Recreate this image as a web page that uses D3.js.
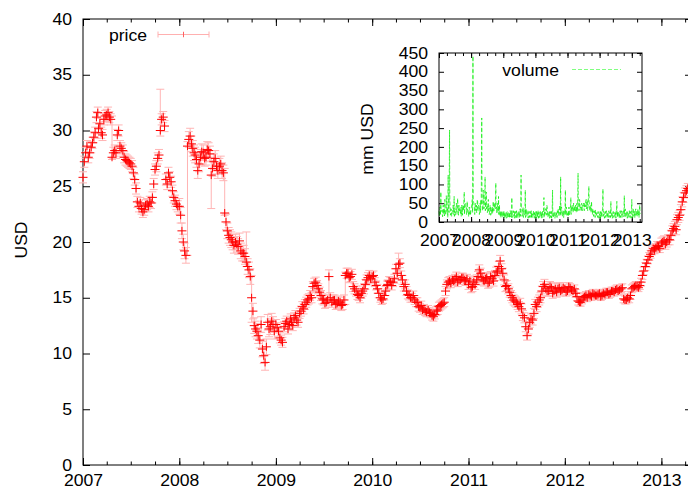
<!DOCTYPE html>
<html><head><meta charset="utf-8">
<script src="https://cdn.jsdelivr.net/npm/d3@7"></script>
<style>
html,body{margin:0;padding:0;background:#fff;}
svg{display:block;}
text{font-family:"Liberation Sans",Arial,sans-serif;font-size:16px;fill:#000;}
</style></head><body>
<svg id="chart" width="688" height="491"></svg>
<script>
// ---- price: readings per month on days 1, 11, 21 and on days 6, 16, 26 ----
const priceDays = [1, 11, 21];
const price2007 = [25.8,28.0,27.6, 28.5,29.4,31.2, 30.2,29.8,31.0, 31.4,31.2,27.6, 28.2,29.6,28.6, 28.2,27.4,27.2, 27.0,26.2,24.8, 23.2,23.0,22.9, 23.4,23.6,24.0, 26.5,27.5,30.0, 31.2,25.6,26.2, 25.4,24.0,23.4];
const price2008 = [23.2,21.0,19.2, 28.6,29.5,28.4, 27.8,26.4,27.6, 28.0,27.6,28.2, 26.0,27.2,26.8, 26.8,26.4,22.6, 21.0,20.4,20.0, 20.0,19.6,19.2, 19.0,18.2,17.5, 15.0,12.5,12.0, 11.2,10.4,9.2, 12.8,12.4,12.6];
const price2009 = [12.6,12.0,11.2, 12.4,12.9,12.6, 12.8,13.2,13.0, 13.6,14.2,14.4, 14.8,15.2,16.0, 16.4,15.8,15.2, 14.8,14.6,16.9, 14.6,14.8,14.5, 14.6,14.4,17.0, 17.2,16.9,16.0, 15.6,15.2,15.4, 15.8,16.6,17.0];
const price2010 = [16.9,16.4,15.8, 15.0,14.9,15.6, 16.2,16.4,16.4, 17.6,18.0,17.0, 16.0,15.6,15.2, 15.0,14.8,14.6, 14.1,13.9,13.8, 13.9,13.6,13.3, 13.8,14.2,14.4, 14.6,16.2,16.5, 16.6,16.7,16.4, 16.6,16.8,16.5];
const price2011 = [16.2,15.9,16.4, 16.6,17.5,16.8, 16.5,16.8,16.4, 16.7,17.0,17.4, 18.3,17.2,16.0, 15.8,15.2,14.8, 14.6,14.2,14.0, 13.2,11.6,12.8, 13.0,14.4,14.6, 15.0,16.0,15.8, 15.6,15.9,15.6, 15.5,15.9,15.7];
const price2012 = [15.8,15.6,15.9, 15.6,15.4,14.7, 14.6,15.0,15.2, 15.3,15.1,15.3, 15.2,15.4,15.2, 15.3,15.5,15.4, 15.6,15.7,15.6, 15.8,14.9,14.8, 14.9,15.8,16.0, 16.0,16.1,17.0, 17.8,18.4,18.9, 19.4,19.5,19.6];
const price2013 = [19.9,20.1,20.0, 20.2,21.0,21.4, 22.0,22.4,23.6, 24.4,24.8];

const priceMidDays = [6, 16, 26];
const priceMid2007 = [27.2,28.6,28.0, 28.9,29.8,31.6, 30.6,29.6,31.3, 31.6,31.0,28.0, 28.0,30.0,28.4, 27.6,27.3,27.1, 26.8,25.6,23.6, 23.5,22.7,23.3, 23.2,23.5,25.2, 26.8,27.8,31.0, 30.4,25.2,25.8, 24.6,23.7,23.2];
const priceMid2008 = [22.4,20.0,18.8, 29.2,28.8,28.0, 27.4,27.0,28.1, 27.5,28.3,27.9, 26.6,27.5,26.4, 27.0,26.2,21.8, 20.6,20.2,19.7, 19.8,20.1,19.0, 18.7,17.8,16.9, 13.8,12.2,11.6, 12.6,9.8,10.6, 12.2,12.9,12.0];
const priceMid2009 = [12.3,11.4,11.0, 12.7,12.2,13.1, 12.5,13.4,12.8, 13.8,14.0,14.6, 14.9,15.0,16.3, 16.1,15.5,14.9, 14.5,14.8,15.0, 14.8,14.4,14.7, 14.3,14.8,17.2, 16.8,17.1,15.8, 15.3,15.0,15.6, 16.2,16.8,16.7];
const priceMid2010 = [17.0,16.1,15.4, 14.8,15.2,16.1, 16.5,16.1,16.7, 17.2,18.1,16.6, 16.2,15.3,15.0, 15.2,14.6,14.2, 14.3,14.0,13.7, 13.7,13.4,13.5, 13.9,14.3,14.5, 15.6,16.4,16.3, 16.5,16.9,16.6, 16.8,16.6,16.7];
const priceMid2011 = [16.5,16.0,16.2, 16.9,17.2,16.6, 16.7,16.3,16.9, 16.5,17.3,17.8, 17.6,16.6,16.1, 15.5,15.0,14.7, 14.4,14.5,13.4, 12.4,12.2,13.1, 13.6,14.2,14.8, 15.6,16.2,15.6, 16.0,15.4,15.8, 15.8,15.6,15.9];
const priceMid2012 = [15.5,16.0,15.7, 15.8,15.1,14.6, 14.8,15.1,15.0, 15.2,15.4,15.2, 15.3,15.1,15.4, 15.5,15.3,15.6, 15.5,15.8,15.7, 15.9,14.8,15.0, 15.2,15.9,16.1, 15.9,16.4,17.4, 18.1,18.7,19.2, 19.3,19.7,19.4];
const priceMid2013 = [20.0,19.8,20.2, 20.6,21.2,21.1, 22.2,22.9,24.0, 24.6];

const priceErr = [0.5, 0.7, 0.45, 0.4, 0.45, 0.35, 0.45]; // typical half range per year
const priceSpikes = [
  ["2007-04-21", 27.4, 31.3],
  ["2007-10-21", 29.5, 33.7],
  ["2008-02-01", 18.8, 29.0],
  ["2008-05-01", 23.0, 27.6],
  ["2008-06-21", 22.4, 26.6],
  ["2008-09-11", 17.8, 20.9],
  ["2008-10-01", 12.8, 17.0],
  ["2009-07-21", 14.6, 17.5],
  ["2009-09-21", 14.4, 17.3],
  ["2010-04-11", 17.4, 19.0],
  ["2011-05-01", 17.0, 18.8],
  ["2011-08-11", 11.2, 12.4]
];

// ---- volume (mm USD): readings per month on days 1, 8, 15, 22 and 4, 11, 18, 25 ----
const volumeDays = [1, 8, 15, 22];
const volume2007 = [30,22,35,80, 28,20,32,25, 30,60,22,28, 25,35,125,30, 245,40,22,30, 25,35,28,68, 30,22,40,25, 63,35,45,30, 28,40,25,35, 45,30,80,40, 50,35,45,30, 28,35,22,30];
const volume2008 = [35,45,60,442, 50,35,40,30, 45,35,55,40, 38,30,45,60, 277,45,35,50, 40,120,55,80, 45,35,60,40, 30,40,25,35, 40,55,30,45, 35,104,40,30, 25,68,30,20, 28,18,25,22];
const volume2009 = [20,30,25,18, 25,20,28,22, 18,25,22,30, 24,65,20,25, 22,28,18,25, 30,22,26,20, 25,30,22,125, 35,28,40,25, 30,85,28,35, 25,30,22,28, 20,25,30,22, 18,24,20,25];
const volume2010 = [22,28,20,25, 30,22,18,24, 20,26,22,30, 25,65,30,22, 35,28,40,25, 22,30,25,20, 28,22,85,25, 20,25,18,22, 25,30,22,28, 30,40,120,35, 28,22,30,25, 20,85,25,30];
const volume2011 = [22,28,35,25, 30,65,28,35, 40,30,45,35, 30,38,45,40, 130,45,35,50, 40,35,45,38, 42,35,50,40, 60,45,55,40, 95,45,35,40, 55,30,35,28, 30,25,32,22, 25,20,28,18];
const volume2012 = [22,28,20,25, 30,88,22,25, 20,28,18,22, 25,20,30,22, 28,55,22,25, 20,25,18,22, 25,30,55,28, 22,25,20,30, 25,22,28,20, 30,70,25,28, 22,30,25,20, 25,20,28,22];
const volume2013 = [60,25,30,22, 28,22,35,25, 30,25,22,28, 45,22];

const volumeMidDays = [4, 11, 18, 25];
const volumeMid2007 = [15,40,18,35, 32,14,45,20, 16,35,18,70, 30,12,40,25, 60,18,35,15, 32,45,20,15, 18,35,50,20, 40,18,32,38, 20,15,45,18, 35,55,20,45, 40,20,55,25, 15,40,20,18];
const volumeMid2008 = [40,55,25,60, 45,20,50,30, 25,60,30,45, 20,50,25,45, 60,30,85,35, 55,30,60,35, 25,50,30,20, 45,18,38,20, 25,45,30,50, 60,35,25,50, 25,20,45,15, 12,30,12,28];
const volumeMid2009 = [15,10,22,12, 10,26,12,25, 14,10,30,14, 12,28,12,30, 15,10,28,12, 10,26,12,28, 12,35,15,40, 15,32,12,30, 18,12,35,15, 30,10,25,12, 28,12,10,25, 12,30,14,10];
const volumeMid2010 = [15,10,30,12, 10,26,12,28, 15,10,28,12, 30,12,25,35, 18,45,20,12, 25,10,28,12, 10,30,15,12, 28,10,25,14, 12,28,35,15, 45,20,18,40, 15,30,12,28, 35,18,40,15];
const volumeMid2011 = [20,15,40,18, 35,20,40,45, 25,50,28,42, 45,25,50,28, 50,30,60,35, 28,50,30,45, 50,30,45,55, 35,60,30,50, 55,30,45,25, 35,20,28,15, 25,12,22,15, 22,12,20,10];
const volumeMid2012 = [15,10,30,12, 35,15,28,10, 25,12,30,16, 10,28,12,25, 12,30,15,10, 28,12,25,14, 10,28,15,12, 28,10,25,12, 30,12,25,14, 25,15,35,12, 28,10,25,12, 30,12,25,10];
const volumeMid2013 = [28,12,35,15, 12,30,15,28, 15,35,18,12, 28];

const priceTicks = [0,5,10,15,20,25,30,35,40];
const volumeTicks = [0,50,100,150,200,250,300,350,400,450];

// ---- build records ----
const parse = d3.timeParse("%Y-%m-%d");
function build(years, days, extra) {
  const out = [];
  years.forEach((arr, k) => arr.forEach((v, i) => {
    const n = days.length;
    out.push(Object.assign({date: new Date(2007 + k, Math.floor(i / n), days[i % n]), v}, extra ? extra(v, k) : {}));
  }));
  return out;
}
const errOf = (v, k) => ({lo: v - priceErr[k], hi: v + priceErr[k]});
const pricePoints = build([price2007, price2008, price2009, price2010, price2011, price2012, price2013], priceDays, errOf)
  .concat(build([priceMid2007, priceMid2008, priceMid2009, priceMid2010, priceMid2011, priceMid2012, priceMid2013], priceMidDays, errOf))
  .sort((a, b) => a.date - b.date);
priceSpikes.forEach(([ds, lo, hi]) => {
  const t = +parse(ds);
  const p = pricePoints.find(q => +q.date === t);
  if (p) { p.lo = lo; p.hi = hi; }
});
const volumePoints = build([volume2007, volume2008, volume2009, volume2010, volume2011, volume2012, volume2013], volumeDays)
  .concat(build([volumeMid2007, volumeMid2008, volumeMid2009, volumeMid2010, volumeMid2011, volumeMid2012, volumeMid2013], volumeMidDays))
  .sort((a, b) => a.date - b.date);

// ---- chart ----
const svg = d3.select("#chart");
const FONT = "Liberation Sans, Arial, sans-serif";
const SX = 1.1;
const start = new Date(2007, 0, 1), end = new Date(2013, 3, 27);

const x = d3.scaleTime().domain([start, end]).range([83, 692]);
const y = d3.scaleLinear().domain([0, 40]).range([465, 19]);

function styleAxis(g) {
  g.attr("font-size", 16).attr("font-family", FONT).attr("color", "#000");
  g.select(".domain").remove();
}
// main axes
svg.append("g").attr("transform", "translate(0,465)")
  .call(d3.axisBottom(x).ticks(d3.timeMonth.every(3)).tickSize(-3.5).tickFormat(""))
  .call(styleAxis);
svg.append("g").attr("transform", "translate(0,465)")
  .call(d3.axisBottom(x).ticks(d3.timeYear.every(1)).tickSize(-7).tickPadding(10).tickFormat(d3.timeFormat("%Y")))
  .call(styleAxis)
  .call(g => g.selectAll("text").attr("transform", `scale(${SX},1)`));
svg.append("g").attr("transform", "translate(0,19)")
  .call(d3.axisTop(x).ticks(d3.timeMonth.every(3)).tickSize(-3.5).tickFormat(""))
  .call(styleAxis);
svg.append("g").attr("transform", "translate(0,19)")
  .call(d3.axisTop(x).ticks(d3.timeYear.every(1)).tickSize(-7).tickFormat(""))
  .call(styleAxis);
svg.append("g").attr("transform", "translate(83,0)")
  .call(d3.axisLeft(y).tickValues(priceTicks).tickSize(-7).tickFormat(d3.format("d")))
  .call(styleAxis)
  .call(g => g.selectAll("text").attr("x", null).attr("transform", `translate(-11,0) scale(${SX},1)`));
svg.append("g").attr("transform", "translate(692,0)")
  .call(d3.axisRight(y).tickValues(priceTicks).tickSize(-7).tickFormat(""))
  .call(styleAxis);
svg.append("rect").attr("x", 83).attr("y", 19).attr("width", 692 - 83).attr("height", 465 - 19)
  .attr("fill", "none").attr("stroke", "#000").attr("stroke-width", 1);

svg.append("text").attr("transform", `translate(26.5,240) rotate(-90) scale(${SX},1)`)
  .attr("text-anchor", "middle").text("USD");

// price error bars and markers
const gP = svg.append("g");
gP.append("path")
  .attr("d", pricePoints.map(p => {
    const px = x(p.date), y1 = y(p.hi), y0 = y(p.lo);
    return `M${px - 4},${y1}h8M${px},${y1}V${y0}M${px - 4},${y0}h8`;
  }).join(""))
  .attr("fill", "none").attr("stroke", "#ffb4b4").attr("stroke-width", 1);
gP.append("path")
  .attr("d", pricePoints.map(p => {
    const px = x(p.date), py = y(p.v);
    return `M${px - 4.5},${py}h9M${px},${py - 4}v8`;
  }).join(""))
  .attr("fill", "none").attr("stroke", "#ff0000").attr("stroke-width", 1);

// price legend
svg.append("text").attr("transform", `translate(147,40.5) scale(${SX},1)`).attr("text-anchor", "end").text("price");
svg.append("path").attr("d", "M158,34.5H209M158,31.5V37.5M209,31.5V37.5M183.5,31.5V37.5")
  .attr("stroke", "#ffb0b0").attr("fill", "none");
svg.append("path").attr("d", "M183.5,32V37").attr("stroke", "#ff6060").attr("fill", "none");

// ---- inset ----
const xi = d3.scaleTime().domain([start, end]).range([439, 642]);
const yi = d3.scaleLinear().domain([0, 450]).range([222, 53]);

svg.append("g").attr("transform", "translate(0,222)")
  .call(d3.axisBottom(xi).ticks(d3.timeMonth.every(3)).tickSize(-3).tickFormat(""))
  .call(styleAxis);
svg.append("g").attr("transform", "translate(0,222)")
  .call(d3.axisBottom(xi).ticks(d3.timeYear.every(1)).tickSize(-5).tickPadding(12.5).tickFormat(d3.timeFormat("%Y")))
  .call(styleAxis)
  .call(g => g.selectAll("text").attr("transform", `scale(${SX},1)`));
svg.append("g").attr("transform", "translate(0,53)")
  .call(d3.axisTop(xi).ticks(d3.timeMonth.every(3)).tickSize(-3).tickFormat(""))
  .call(styleAxis);
svg.append("g").attr("transform", "translate(0,53)")
  .call(d3.axisTop(xi).ticks(d3.timeYear.every(1)).tickSize(-5).tickFormat(""))
  .call(styleAxis);
svg.append("g").attr("transform", "translate(439,0)")
  .call(d3.axisLeft(yi).tickValues(volumeTicks).tickSize(-5).tickFormat(d3.format("d")))
  .call(styleAxis)
  .call(g => g.selectAll("text").attr("x", null).attr("transform", `translate(-11,0) scale(${SX},1)`));
svg.append("g").attr("transform", "translate(642,0)")
  .call(d3.axisRight(yi).tickValues(volumeTicks).tickSize(-5).tickFormat(""))
  .call(styleAxis);

svg.append("path").datum(volumePoints)
  .attr("d", d3.line().x(d => xi(d.date)).y(d => yi(d.v)))
  .attr("fill", "none").attr("stroke", "#00ee00").attr("stroke-width", 0.7)
  .attr("stroke-dasharray", "4,2");

svg.append("rect").attr("x", 439).attr("y", 53).attr("width", 642 - 439).attr("height", 222 - 53)
  .attr("fill", "none").attr("stroke", "#000").attr("stroke-width", 1);

svg.append("text").attr("transform", `translate(373,139) rotate(-90) scale(${SX},1)`)
  .attr("text-anchor", "middle").text("mm USD");

// volume legend
svg.append("text").attr("transform", `translate(559,75.5) scale(${SX},1)`).attr("text-anchor", "end").text("volume");
svg.append("path").attr("d", "M572,69.5H621").attr("stroke", "#80ff80").attr("stroke-dasharray", "4,2").attr("fill", "none");
</script>
</body></html>
